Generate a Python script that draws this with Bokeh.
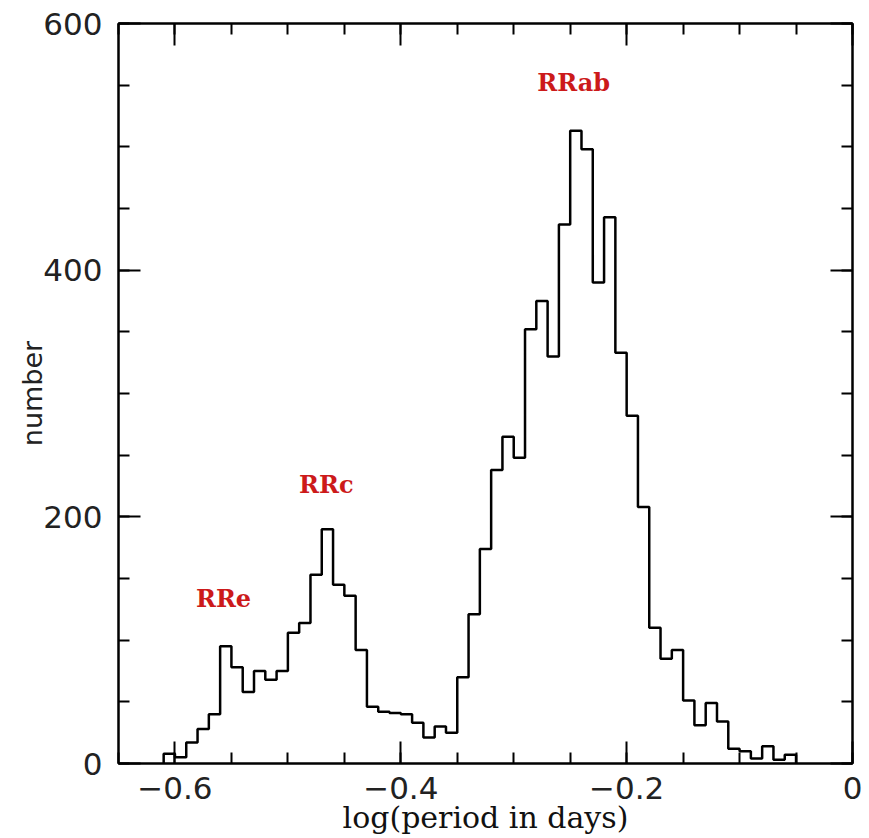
import numpy as np
from bokeh.plotting import figure
from bokeh.models import (Range1d, FixedTicker, LinearAxis, ColumnDataSource,
                          CustomJSTickFormatter)
from bokeh.core.properties import value
from bokeh.embed import file_html
from bokeh.resources import INLINE

# Histogram of log(period) for RR Lyrae stars, bins of 0.01 in log P
bin_start = -0.61
bin_width = 0.01
counts = [8, 5, 17, 28, 40, 95, 78, 58, 75, 68, 75, 106, 114, 153, 190, 145, 136,
          92, 46, 42, 41, 40, 33, 21, 30, 25, 70, 121, 174,
          238, 265, 248, 352, 375, 330, 437, 513, 498, 390, 443, 333, 282,
          208, 110, 85, 92, 51, 31, 49, 34, 12, 10, 4, 14, 3, 7]

# Class labels and their positions (log P, number)
class_names = ["RRab", "RRc", "RRe"]
class_x = [-0.247, -0.466, -0.557]
class_y = [552, 226, 134]

x_major = [-0.6, -0.4, -0.2, 0.0]
x_major_labels = ["\u22120.6", "\u22120.4", "\u22120.2", "0"]
x_minor = [round(-0.65 + 0.05 * i, 2) for i in range(14)]
y_major = [0, 200, 400, 600]
y_minor = list(range(0, 601, 50))

edges = bin_start + bin_width * np.arange(len(counts) + 1)
xs = np.repeat(edges, 2)
ys = np.concatenate([[0], np.repeat(counts, 2), [0]])

p = figure(width=869, height=838, output_backend="svg", toolbar_location=None,
           x_range=Range1d(-0.65, 0.0), y_range=Range1d(0, 600),
           x_axis_location=None, y_axis_location=None,
           min_border_left=118, min_border_right=17,
           min_border_top=23, min_border_bottom=75)
p.background_fill_color = "white"
p.border_fill_color = "white"
p.outline_line_color = "black"
p.outline_line_width = 2
p.grid.visible = False


def style_axis(ax):
    ax.axis_line_color = "black"
    ax.axis_line_width = 2
    ax.major_tick_line_width = 2
    ax.minor_tick_line_width = 2
    ax.major_tick_out = 0
    ax.minor_tick_out = 0
    ax.major_tick_in = 22
    ax.minor_tick_in = 11


xt = FixedTicker(ticks=x_major, minor_ticks=x_minor)
yt = FixedTicker(ticks=y_major, minor_ticks=y_minor)
blank = CustomJSTickFormatter(code="return ''")

xb = LinearAxis(ticker=xt, axis_label="log(period in days)")
style_axis(xb)
xb.major_label_overrides = {v: s for v, s in zip(x_major, x_major_labels)}
xb.major_label_text_font = "DejaVu Sans"
xb.major_label_text_font_size = "31px"
xb.major_label_text_color = "#222222"
xb.major_label_standoff = 13
xb.axis_label_text_font = "DejaVu Serif"
xb.axis_label_text_font_style = "normal"
xb.axis_label_text_font_size = "30px"
xb.axis_label_text_color = "#111111"
xb.axis_label_standoff = -2
p.add_layout(xb, "below")

yl = LinearAxis(ticker=yt, axis_label="number")
style_axis(yl)
yl.major_label_text_font = "DejaVu Sans"
yl.major_label_text_font_size = "31px"
yl.major_label_text_color = "#222222"
yl.major_label_standoff = 16
yl.axis_label_text_font = "DejaVu Sans"
yl.axis_label_text_font_style = "normal"
yl.axis_label_text_font_size = "27px"
yl.axis_label_text_color = "#222222"
yl.axis_label_standoff = -8
p.add_layout(yl, "left")

xtop = LinearAxis(ticker=xt, formatter=blank, major_label_standoff=0)
style_axis(xtop)
p.add_layout(xtop, "above")

yr = LinearAxis(ticker=yt, formatter=blank, major_label_standoff=0)
style_axis(yr)
p.add_layout(yr, "right")

p.line(xs, ys, line_color="black", line_width=2.5)

src = ColumnDataSource(dict(x=class_x, y=class_y, t=class_names))
p.text(x="x", y="y", text="t", source=src, text_color="#cc1a1a",
       text_font=value("DejaVu Serif"), text_font_style="bold",
       text_font_size="24px", text_align="center", text_baseline="middle")

open("out.html", "w").write(file_html(p, INLINE))
